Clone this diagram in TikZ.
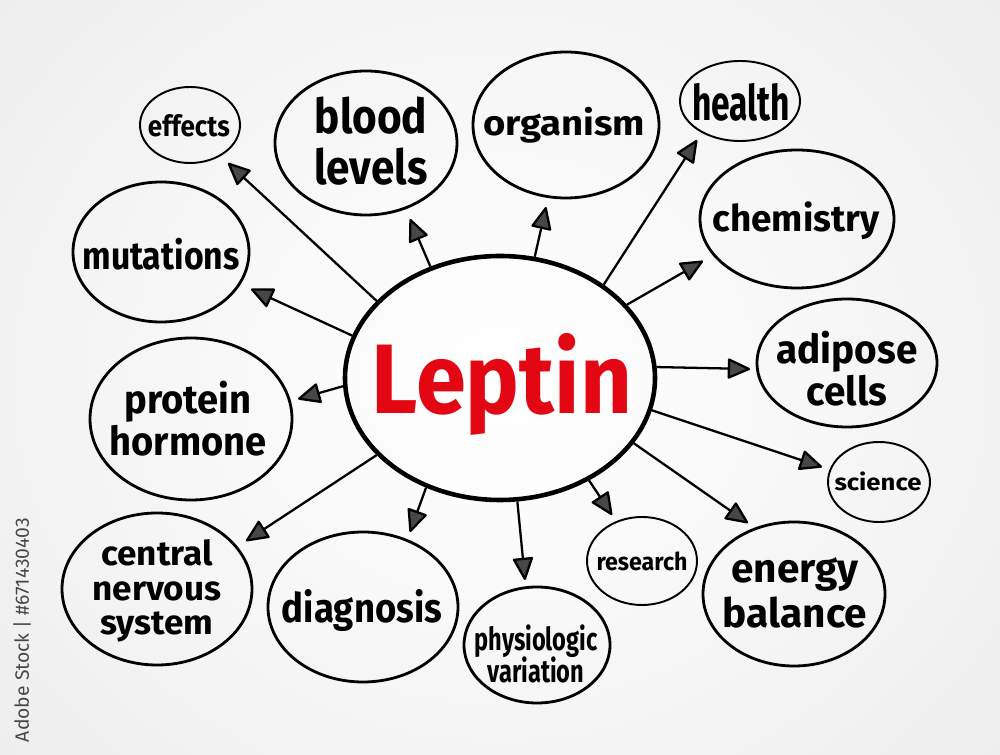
\documentclass[tikz,border=0pt]{standalone}
\usepackage{fontspec}
\setmainfont{Fira Sans}
\usepackage{graphicx}
\usetikzlibrary{arrows.meta,shapes.geometric}
\definecolor{leptred}{HTML}{E30613}
\newcommand\blk[2]{\vbox{\baselineskip=#1\lineskiplimit=-\maxdimen\halign{\hfil##\hfil\cr#2\crcr}}}
\begin{document}
\begin{tikzpicture}[x=0.2mm,y=-0.2mm,
  bub/.style={draw=black, ellipse, line width=1.6pt, inner sep=0pt},
  thinbub/.style={bub, line width=1.1pt},
  rad/.style 2 args={minimum width=#1*0.4mm, minimum height=#2*0.4mm},
  txt/.style={inner sep=0pt, font=\bfseries},
  arr/.style={line width=1.3pt, line join=round,
    -{Triangle[length=4.8mm,width=4.2mm,fill=black!72,round]}},
]
\useasboundingbox (0,0) rectangle (1000,755);
\begin{scope}
\clip (0,0) rectangle (1000,755);
\shade[inner color=white, outer color=black!10] (-500,-500) rectangle (1500,1255);
\end{scope}

% watermark caption
\node[rotate=90, text=black!72, inner sep=0pt] (wm) at (22,630)
  {\resizebox{44.8mm}{!}{Adobe Stock | \#671430403}};

% central node
\node[bub, line width=2.6pt, rad={155}{122}] (L) at (500,378) {};
\node[txt, text=leptred] (Lt) at (502,384) {\resizebox*{52mm}{20.4mm}{Leptin}};

% satellite bubbles
\node[thinbub, rad={50}{38}] (eff) at (190,125) {};
\node[bub, rad={91}{72}] (blo) at (366,143) {};
\node[bub, rad={93}{73}] (org) at (566,125) {};
\node[thinbub, rad={60}{40}] (hea) at (740,101) {};
\node[bub, rad={97}{69}] (che) at (797,219) {};
\node[bub, rad={90}{64}] (adi) at (847,363) {};
\node[thinbub, rad={51}{40}] (sci) at (879,482) {};
\node[bub, rad={88}{70}] (mut) at (161,252) {};
\node[bub, rad={101}{81}] (pro) at (191,419) {};
\node[bub, rad={95}{76}] (cns) at (157,589) {};
\node[bub, rad={95}{75}] (dia) at (363,607) {};
\node[bub, rad={73}{58}] (phy) at (537,645) {};
\node[thinbub, rad={55}{44}] (res) at (642,561) {};
\node[bub, rad={91}{72}] (ene) at (794,594) {};

% texts
\node[txt] (effT) at (189,126) {\resizebox*{16.4mm}{4.5mm}{effects}};
\node[txt] (bloT) at (371,141) {\resizebox*{22.6mm}{17.6mm}{\blk{1.05em}{blood\cr levels}}};
\node[txt] (orgT) at (564,125) {\resizebox*{32.4mm}{7.2mm}{organism}};
\node[txt] (heaT) at (741,102) {\resizebox*{19.6mm}{7.6mm}{health}};
\node[txt] (cheT) at (796,221) {\resizebox*{33.4mm}{7.6mm}{chemistry}};
\node[txt] (adiT) at (847,369) {\resizebox*{28.2mm}{15mm}{\blk{1.05em}{adipose\cr cells}}};
\node[txt] (sciT) at (878,481) {\resizebox*{17.4mm}{3.8mm}{science}};
\node[txt] (mutT) at (161,254) {\resizebox*{31.4mm}{6.4mm}{mutations}};
\node[txt] (proT) at (188,419) {\resizebox*{31.4mm}{15mm}{\blk{1.05em}{protein\cr hormone}}};
\node[txt] (cnsT) at (157,591) {\resizebox*{25.8mm}{20.4mm}{\blk{1em}{central\cr nervous\cr system}}};
\node[txt] (diaT) at (362,611) {\resizebox*{32mm}{8.4mm}{diagnosis}};
\node[txt] (phyT) at (536,654) {\resizebox*{24.6mm}{11.6mm}{\blk{1em}{physiologic\cr variation}}};
\node[txt] (resT) at (642,561) {\resizebox*{18.2mm}{3.8mm}{research}};
\node[txt] (eneT) at (795,593) {\resizebox*{28.8mm}{14mm}{\blk{1.1em}{energy\cr balance}}};

% arrow tips (free ends)
\coordinate (tEff) at (228,163);
\coordinate (tBlo) at (410,219);
\coordinate (tOrg) at (546,207);
\coordinate (tHea) at (697,140);
\coordinate (tChe) at (703,261);
\coordinate (tAdi) at (750,369);
\coordinate (tSci) at (822,467);
\coordinate (tEne) at (748,523);
\coordinate (tRes) at (612,515);
\coordinate (tPhy) at (525,580);
\coordinate (tDia) at (410,532);
\coordinate (tCns) at (246,541);
\coordinate (tPro) at (298,399);
\coordinate (tMut) at (251,289);

% connectors
\draw[arr] (L.148) -- (tEff);
\draw[arr] (L.122) -- (tBlo);
\draw[arr] (L.74) -- (tOrg);
\draw[arr] (L.42) -- (tHea);
\draw[arr] (L.30) -- (tChe);
\draw[arr] (L.4) -- (tAdi);
\draw[arr] (L.-12) -- (tSci);
\draw[arr] (L.-26) -- (tEne);
\draw[arr] (L.-49) -- (tRes);
\draw[arr] (L.-82) -- (tPhy);
\draw[arr] (L.-124) -- (tDia);
\draw[arr] (L.-148) -- (tCns);
\draw[arr] (L.-177) -- (tPro);
\draw[arr] (L.164) -- (tMut);
\end{tikzpicture}
\end{document}
